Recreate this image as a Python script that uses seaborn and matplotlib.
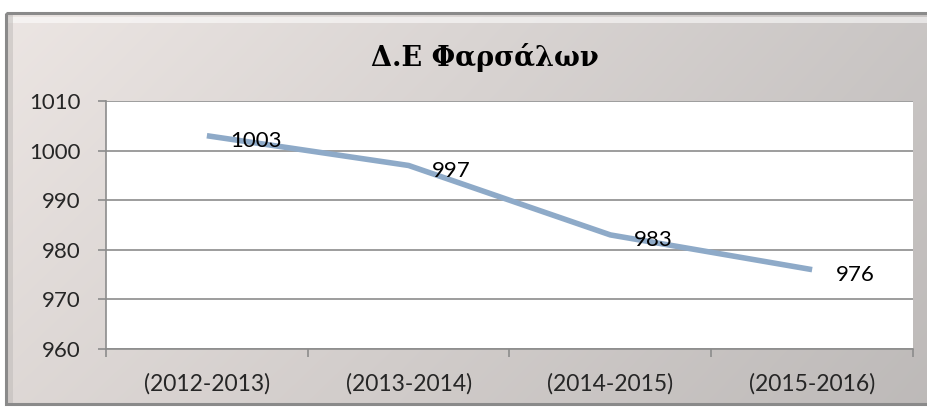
import numpy as np
import pandas as pd
import matplotlib
matplotlib.use("Agg")
import matplotlib.pyplot as plt
from matplotlib.patches import Rectangle
import seaborn as sns

# Data
periods = ["(2012-2013)", "(2013-2014)", "(2014-2015)", "(2015-2016)"]
students = [1003, 997, 983, 976]
y_ticks = [960, 970, 980, 990, 1000, 1010]
title_text = "Δ.Ε Φαρσάλων"

sns.set_theme(style="white")
plt.rcParams["font.family"] = ["Lato", "DejaVu Sans"]

W, H = 928, 409
fig = plt.figure(figsize=(W / 100, H / 100), dpi=100)
fig.patch.set_facecolor("white")

# Chart-area panel: soft grey gradient, lighter on the left
bg = fig.add_axes([0, 0, 1, 1], zorder=0)
bg.set_xlim(0, W)
bg.set_ylim(H, 0)
bg.axis("off")
gx = np.linspace(0, 1, 300)
gy = np.linspace(0, 1, 120)
GX, GY = np.meshgrid(gx, gy)
left_c = np.array([0.925, 0.900, 0.890])
right_c = np.array([0.790, 0.775, 0.770])
grad = left_c[None, None, :] * (1 - GX[..., None]) + right_c[None, None, :] * GX[..., None]
grad = grad * (1 - 0.06 * GY[..., None])
bg.imshow(grad, extent=[6, W + 2, 404, 13], aspect="auto", zorder=1, interpolation="bilinear")
# highlight band near the top edge
bg.add_patch(Rectangle((8, 17), W, 6, facecolor="white", alpha=0.55, lw=0, zorder=2))
# outer border
bg.add_patch(Rectangle((6, 13), W + 10, 391, facecolor="none", edgecolor="#8a8a8a", lw=2.2, zorder=3))
bg.add_patch(Rectangle((6, 13), 7, 391, facecolor="#bdb9b7", edgecolor="none", alpha=0.5, zorder=2))

bg.text(485, 58, title_text, ha="center", va="center", fontsize=19.5, fontweight="bold",
        family=["DejaVu Serif"], color="black", zorder=4)

# Plot area
ax = fig.add_axes([106 / W, 1 - 349 / H, (913 - 106) / W, (349 - 101) / H], zorder=2)
ax.set_facecolor("white")

df = pd.DataFrame({"pos": np.arange(len(periods)), "value": students})
sns.lineplot(data=df, x="pos", y="value", ax=ax, color="#8eaac8", linewidth=4,
             solid_capstyle="butt", zorder=3)

ax.set_xlim(-0.5, len(periods) - 0.5)
ax.set_ylim(y_ticks[0], y_ticks[-1])
ax.set_yticks(y_ticks)
ax.set_yticklabels([str(v) for v in y_ticks], fontsize=16)
ax.set_xticks(np.arange(len(periods) + 1) - 0.5)
ax.set_xticklabels([])
ax.set_xticks(np.arange(len(periods)), minor=True)
ax.set_xticklabels(periods, minor=True, fontsize=16.5)
ax.tick_params(axis="x", which="major", direction="out", length=6, width=1.2, color="#8c8c8c", bottom=True)
ax.tick_params(axis="x", which="minor", length=0, pad=17)
ax.tick_params(axis="y", direction="out", length=6, width=1.2, color="#8c8c8c", left=True, pad=12)
ax.grid(axis="y", color="#8c8c8c", linewidth=1.2)
ax.grid(axis="x", visible=False)
ax.set_axisbelow(True)
for s in ["top", "right"]:
    ax.spines[s].set_visible(False)
for s in ["left", "bottom"]:
    ax.spines[s].set_color("#8c8c8c")
    ax.spines[s].set_linewidth(1.2)
ax.set_xlabel("")
ax.set_ylabel("")

for x, v in zip(df["pos"], df["value"]):
    ax.annotate(str(v), (x, v), xytext=(17, -4), textcoords="offset points",
                ha="left", va="center", fontsize=16, color="black", zorder=4)

fig.savefig("out.png", dpi=100)
